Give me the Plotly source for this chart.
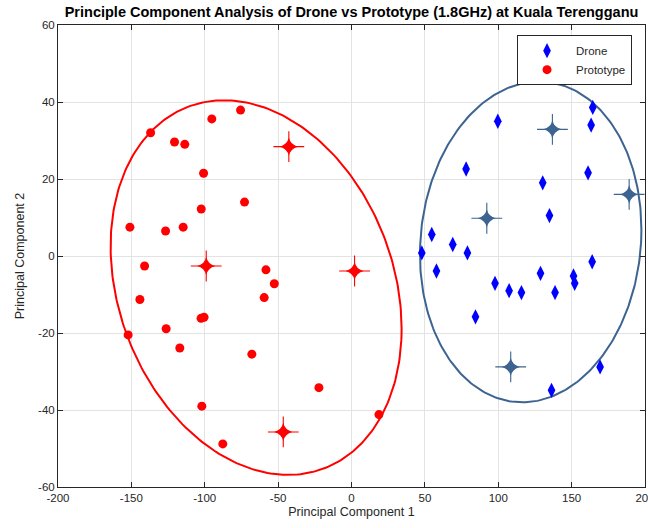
import numpy as np
import plotly.graph_objects as go

# ---- data ----
proto_x = [-136.9, -75.6, -95.2, -120.6, -113.6, -100.8, -72.9, -102.4, -151.0, -126.7,
           -114.7, -141.0, -58.3, -52.6, -144.2, -59.5, -102.5, -100.5, -126.3, -152.2,
           -117.0, -67.9, -22.2, -102.0, 18.7, -87.7]
proto_y = [32.0, 37.9, 35.6, 29.6, 29.0, 21.5, 14.0, 12.2, 7.5, 6.5,
           7.5, -2.6, -3.6, -7.2, -11.3, -10.8, -16.2, -15.9, -18.9, -20.5,
           -23.9, -25.5, -34.2, -39.0, -41.2, -48.8]
proto_star_x = [-42.7, -99.0, 2.1, -46.5]
proto_star_y = [28.4, -2.6, -3.9, -45.7]

drone_x = [164.4, 163.3, 99.7, 78.1, 161.2, 130.3, 134.9, 54.7, 69.0, 79.0,
           47.9, 164.0, 57.9, 128.8, 151.3, 97.8, 107.4, 115.8, 152.1, 138.7,
           84.5, 169.4, 136.3]
drone_y = [38.6, 34.0, 35.0, 22.6, 21.6, 19.0, 10.5, 5.6, 3.0, 0.8,
           0.8, -1.5, -3.9, -4.5, -5.2, -7.1, -9.0, -9.5, -7.1, -9.5,
           -15.8, -28.8, -34.9]
drone_star_x = [136.9, 189.2, 92.2, 108.5]
drone_star_y = [32.9, 16.0, 9.8, -28.8]

# ellipse parameters: centre and covariance-like shape (sxx, sxy, syy)
proto_ell_center = [-65.0, -8.2]
proto_ell_shape = [9831.0, -1060.0, 2367.0]
drone_ell_center = [122.1, 3.65]
drone_ell_shape = [5693.0, 240.0, 1735.0]

x_ticks = [-200, -150, -100, -50, 0, 50, 100, 150, 200]
y_ticks = [-60, -40, -20, 0, 20, 40, 60]

RED = "#ff0000"
BLUE = "#0000ff"
STEEL = "#3d6491"
FONT = "Liberation Sans, Arial, sans-serif"


def ellipse(center, shape, n=300):
    sxx, sxy, syy = shape
    l11 = np.sqrt(sxx)
    l21 = sxy / l11
    l22 = np.sqrt(syy - l21 ** 2)
    t = np.linspace(0, 2 * np.pi, n)
    return center[0] + l11 * np.cos(t), center[1] + l21 * np.cos(t) + l22 * np.sin(t)


fig = go.Figure()

ex, ey = ellipse(proto_ell_center, proto_ell_shape)
fig.add_trace(go.Scatter(x=ex, y=ey, mode="lines", line=dict(color=RED, width=2),
                         showlegend=False, hoverinfo="skip"))
ex, ey = ellipse(drone_ell_center, drone_ell_shape)
fig.add_trace(go.Scatter(x=ex, y=ey, mode="lines", line=dict(color=STEEL, width=2),
                         showlegend=False, hoverinfo="skip"))

fig.add_trace(go.Scatter(x=drone_x, y=drone_y, mode="markers", name="Drone",
                         marker=dict(symbol="diamond-tall", size=11, color=BLUE)))
fig.add_trace(go.Scatter(x=proto_x, y=proto_y, mode="markers", name="Prototype",
                         marker=dict(symbol="circle", size=9, color=RED)))

# four-pointed stars: thin cross plus star-diamond core
for sx, sy, col in [(proto_star_x, proto_star_y, RED), (drone_star_x, drone_star_y, STEEL)]:
    fig.add_trace(go.Scatter(x=sx, y=sy, mode="markers", showlegend=False,
                             marker=dict(symbol="cross-thin", size=22,
                                         line=dict(color=col, width=1.1))))
    fig.add_trace(go.Scatter(x=sx, y=sy, mode="markers", showlegend=False,
                             marker=dict(symbol="star-diamond", size=13, color=col)))

axis_common = dict(
    showgrid=True, gridcolor="#e3e3e3", gridwidth=1,
    showline=True, linecolor="#262626", linewidth=1, mirror="ticks",
    ticks="inside", ticklen=5, tickcolor="#262626",
    tickfont=dict(family=FONT, size=11.5, color="#262626"),
    zeroline=False, automargin=False, ticklabeloverflow="allow",
)

fig.update_layout(
    width=648, height=528,
    margin=dict(l=58, r=3, t=25, b=41),
    paper_bgcolor="white", plot_bgcolor="white",
    font=dict(family=FONT, color="#262626"),
    title=dict(text="<b>Principle Component Analysis of Drone vs Prototype (1.8GHz) at Kuala Terengganu</b>",
               x=0.5425, xanchor="center", y=0.978, yanchor="middle",
               font=dict(size=14.5, color="black")),
    xaxis=dict(range=[-200, 200], tickvals=x_ticks, ticktext=[str(v) for v in x_ticks],
               title=dict(text="Principal Component 1", font=dict(size=12.5), standoff=4),
               **axis_common),
    yaxis=dict(range=[-60, 60], tickvals=y_ticks, ticktext=[str(v) for v in y_ticks],
               title=dict(text="Principal Component 2", font=dict(size=12.5), standoff=10),
               **axis_common),
    legend=dict(x=0.782, y=0.978, xanchor="left", yanchor="top",
                bgcolor="white", bordercolor="#262626", borderwidth=1,
                itemwidth=48,
                font=dict(size=11.5, color="#262626"), tracegroupgap=0),
    showlegend=True,
)

fig.write_html("out.html", config={"displayModeBar": False},
               post_script="document.body.style.margin='0';")
